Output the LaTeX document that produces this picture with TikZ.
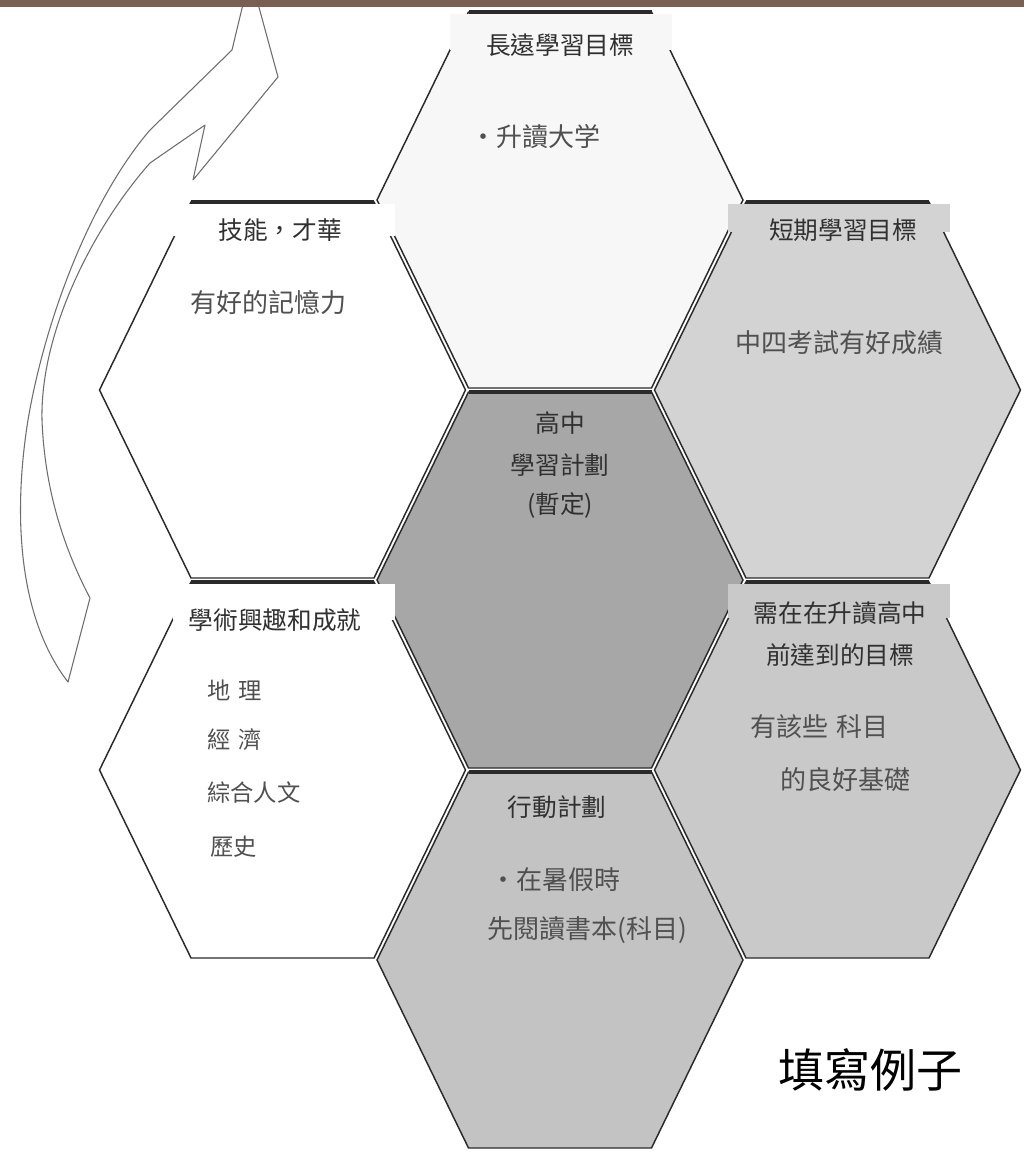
\documentclass[tikz,border=0pt]{standalone}
\usepackage{fontspec}
\newfontfamily\cjk{Noto Sans CJK TC}
\definecolor{barbrown}{RGB}{122,94,84}
\definecolor{hexline}{HTML}{2A2A2A}
\definecolor{titlegray}{HTML}{303030}
\definecolor{handgray}{HTML}{505050}
\definecolor{arrowgray}{HTML}{6E6E6E}
\definecolor{fillTop}{HTML}{F7F7F7}
\definecolor{fillUR}{HTML}{D3D3D3}
\definecolor{fillC}{HTML}{A7A7A7}
\definecolor{fillLR}{HTML}{C9C9C9}
\definecolor{fillB}{HTML}{C3C3C3}
\tikzset{
  hexside/.style={draw=hexline, line width=1.1pt, line join=miter},
  topedge/.style={draw=hexline, line width=2.3pt},
  title/.style={font=\cjk\fontsize{18.5}{22}\selectfont, text=titlegray, inner sep=0pt},
  hand/.style={font=\cjk\fontsize{19.5}{24}\selectfont, text=handgray, inner sep=0pt},
  handsmall/.style={font=\cjk\fontsize{17.5}{22}\selectfont, text=handgray, inner sep=0pt},
  arrowline/.style={draw=arrowgray, line width=0.8pt, fill=white, line join=round},
}
\newcommand\hexcell[3]{%
  \filldraw[fill=#3, hexside] ({#1-183},{#2}) -- ({#1-91.5},{#2-188}) -- ({#1+91.5},{#2-188})
    -- ({#1+183},{#2}) -- ({#1+91.5},{#2+188}) -- ({#1-91.5},{#2+188}) -- cycle;}
\newcommand\hexbox[4]{%
  \fill[#3] ({#1-110},{#2-186}) rectangle ({#1+112},{#2-186+#4});}
\newcommand\hextop[2]{%
  \draw[topedge] ({#1-91.5},{#2-188}) -- ({#1+91.5},{#2-188});}
\begin{document}
\begin{tikzpicture}[x=0.75pt,y=-0.75pt]
\useasboundingbox (0,0) rectangle (1024,1167);
\fill[white] (0,0) rectangle (1024,1167);

% curved block arrow
\draw[arrowline] (68,682) .. controls (20,620) and (12,520) .. (28,420)
  .. controls (45,320) and (90,200) .. (150,130) -- (232,50) -- (244,0) -- (257,0)
  -- (278,77) -- (193,180) -- (205,125) -- (150,163)
  .. controls (95,225) and (40,330) .. (42,420)
  .. controls (45,500) and (70,560) .. (90,598) -- cycle;

% hexagons
\hexcell{560}{200}{fillTop}
\hexcell{282.5}{390}{white}
\hexcell{837.5}{390}{fillUR}
\hexcell{560}{580}{fillC}
\hexcell{282.5}{770}{white}
\hexcell{837.5}{770}{fillLR}
\hexcell{560}{960}{fillB}

% title boxes
\hexbox{560}{200}{fillTop}{36}
\hexbox{282.5}{390}{white}{32}
\hexbox{837.5}{390}{fillUR}{28}
\hexbox{282.5}{770}{white}{36}
\hexbox{837.5}{770}{fillLR}{34}

% top edges
\hextop{560}{200}
\hextop{282.5}{390}
\hextop{837.5}{390}
\hextop{560}{580}
\hextop{282.5}{770}
\hextop{837.5}{770}
\hextop{560}{960}

% top bar
\fill[barbrown] (0,0) rectangle (1024,7);

% titles
\node[title] (tTop) at (560,45) {長遠學習目標};
\node[title] (tUL) at (280,230) {技能，才華};
\node[title] (tUR) at (843,230) {短期學習目標};
\node[title] (tC1) at (560,423) {高中};
\node[title] (tC2) at (560,465) {學習計劃};
\node[title] (tC3) at (560,505) {(暫定)};
\node[title] (tLL) at (275,620) {學術興趣和成就};
\node[title] (tLR1) at (840,613) {需在在升讀高中};
\node[title] (tLR2) at (840,655) {前達到的目標};
\node[title] (tB) at (557,807) {行動計劃};

% handwritten entries
\node[hand, anchor=west] (hTop) at (470,137) {·升讀大学};
\node[hand, anchor=west] (hUL) at (190,303) {有好的記憶力};
\node[hand, anchor=west] (hUR) at (735,343) {中四考試有好成績};
\node[handsmall, anchor=west] (hLL1) at (207,690) {地\,\,理};
\node[handsmall, anchor=west] (hLL2) at (207,740) {經\,\,濟};
\node[handsmall, anchor=west] (hLL3) at (207,793) {綜合人文};
\node[handsmall, anchor=west] (hLL4) at (210,847) {歷史};
\node[hand, anchor=west] (hLR1) at (750,727) {有該些\,\,科目};
\node[hand, anchor=west] (hLR2) at (780,780) {的良好基礎};
\node[hand, anchor=west] (hB1) at (490,880) {·在暑假時};
\node[hand, anchor=west] (hB2) at (487,930) {先閱讀書本(科目)};

% caption
\node[font=\cjk\fontsize{34.5}{40}\selectfont, text=black, inner sep=0pt] (cap) at (870,1070) {填寫例子};
\end{tikzpicture}
\end{document}
